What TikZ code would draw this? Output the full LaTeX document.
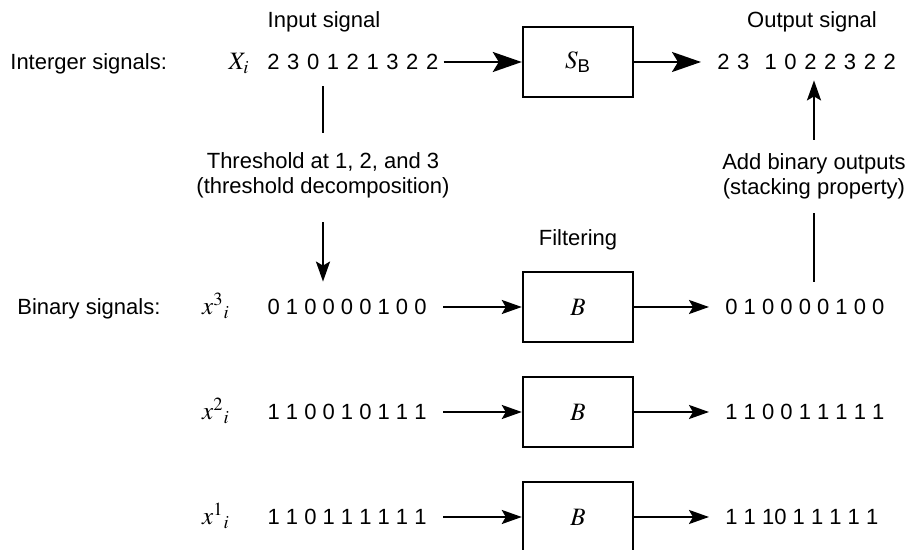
\documentclass[tikz,border=0pt]{standalone}
\usepackage{amsmath}
\usepackage{mathptmx}
\usepackage{fontspec}
\setmainfont{Liberation Sans}
\usetikzlibrary{arrows.meta}
\newcommand{\spreaddigits}{\spaceskip=3.8pt\relax}

\begin{document}
\begin{tikzpicture}[x=0.5pt,y=-0.5pt,>=Stealth,
  every node/.style={font=\fontsize{11}{12.5}\selectfont},
  txt/.style={inner sep=0pt,text height=8pt,text depth=0pt},
  mtxt/.style={txt,font=\fontsize{12.5}{14}\selectfont},
  seq/.style={txt,inner xsep=8pt},
  blockbox/.style={draw,line width=1.2pt,minimum width=55pt,minimum height=35pt,
    font=\fontsize{12.5}{14}\selectfont},
  wire/.style={line width=1.2pt},
  bigtip/.style={wire,-{Stealth[length=14.5pt,width=10pt,inset=3pt]}},
  smalltip/.style={wire,-{Stealth[length=10pt,width=7pt,inset=2pt]}},
  note/.style={inner sep=0pt,align=center}]
  \useasboundingbox (0,0) rectangle (907,550);
  % integer signals
  \node[txt] (inlab) at (324,20) {Input signal};
  \node[txt] (outlab) at (812,20) {Output signal};
  \node[txt,anchor=west] (intlab) at (10,62) {Interger signals:};
  \node[mtxt] (Xi) at (239,62) {$X_i$};
  \node[txt,inner xsep=2.5pt,anchor=west] (xin) at (262,62) {\spreaddigits 2 3 0 1 2 1 3 2 2};
  \node[blockbox] (SB) at (578,62) {$S_{\text{B}}$};
  \node[seq,anchor=west] (yout) at (701,62) {\spreaddigits 2 3\ \ 1 0 2 2 3 2 2};
  \draw[bigtip] (xin.east) -- (SB.west);
  \draw[bigtip] (SB.east) -- (yout.west);
  % binary signals, one row per threshold
  \node[txt,anchor=west] (binlab) at (17,307) {Binary signals:};
  \foreach \k/\y/\xs/\ys in {3/307/{0 1 0 0 0 0 1 0 0}/{0 1 0 0 0 0 1 0 0},
      2/412/{1 1 0 0 1 0 1 1 1}/{1 1 0 0 1 1 1 1 1},
      1/517/{1 1 0 1 1 1 1 1 1}/{1 1 10 1 1 1 1 1}}{
    \node[mtxt] (xk\k) at (216,\y) {$x^{\k}{}_{i}$};
    \node[seq,anchor=east] (s\k) at (443,\y) {\xs};
    \node[blockbox] (B\k) at (578,\y) {$B$};
    \node[seq,anchor=west] (o\k) at (709,\y) {\ys};
    \draw[smalltip] (s\k.east) -- (B\k.west);
    \draw[smalltip] (B\k.east) -- (o\k.west);
  }
  % decomposition and stacking
  \node[txt] (filt) at (578,238) {Filtering};
  \node[note] (thr) at (323,175) {Threshold at 1, 2, and 3\\(threshold decomposition)};
  \node[note] (add) at (814,176) {Add binary outputs\\(stacking property)};
  \draw[wire,shorten <=8pt,shorten >=9.5pt] (xin.south -| thr.north) -- (thr.north);
  \draw[smalltip,shorten <=12pt,shorten >=8.5pt] (thr.south) -- (thr.south |- s3.north);
  \draw[wire,shorten <=8.5pt,shorten >=7pt] (add.south |- o3.north) -- (add.south);
  \draw[smalltip,shorten <=6.5pt,shorten >=5pt] (add.north) -- (add.north |- yout.south);
\end{tikzpicture}
\end{document}
